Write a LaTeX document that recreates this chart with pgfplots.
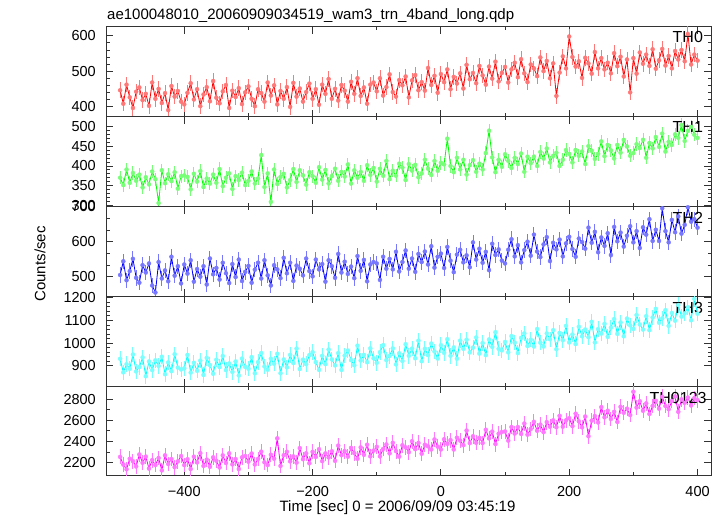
\documentclass[border=0pt]{standalone}
\usepackage{pgfplots}
\usepackage{pgfplotstable}
\pgfplotsset{compat=1.18}
\usepackage{fontspec}
\setmainfont{Liberation Sans}
\definecolor{qred}{RGB}{255,0,0}
\definecolor{qgreen}{RGB}{0,255,0}
\definecolor{qblue}{RGB}{0,0,255}
\definecolor{qcyan}{RGB}{0,255,255}
\definecolor{qmag}{RGB}{255,0,255}
\definecolor{pred}{RGB}{255,120,120}
\definecolor{pgreen}{RGB}{120,255,120}
\definecolor{pblue}{RGB}{120,120,255}
\definecolor{pcyan}{RGB}{120,255,255}
\definecolor{pmag}{RGB}{255,120,255}

\pgfplotstableread[row sep=\\]{
x y\\
-500 446\\ -495 408\\ -490 462\\ -485 426\\ -480 396\\ -475 442\\ -470 454\\ -465 418\\ -460 436\\ -455 402\\
-450 468\\ -445 422\\ -440 450\\ -435 410\\ -430 438\\ -425 390\\ -420 458\\ -415 428\\ -410 444\\ -405 414\\
-400 406\\ -395 439\\ -390 466\\ -385 420\\ -380 449\\ -375 401\\ -370 434\\ -365 455\\ -360 415\\ -355 472\\
-350 425\\ -345 409\\ -340 443\\ -335 461\\ -330 396\\ -325 445\\ -320 427\\ -315 452\\ -310 407\\ -305 440\\
-300 457\\ -295 422\\ -290 401\\ -285 449\\ -280 438\\ -275 414\\ -270 468\\ -265 431\\ -260 460\\ -255 406\\
-250 444\\ -245 422\\ -240 455\\ -235 399\\ -230 467\\ -225 428\\ -220 451\\ -215 414\\ -210 441\\ -205 465\\
-200 422\\ -195 449\\ -190 405\\ -185 462\\ -180 436\\ -175 478\\ -170 422\\ -165 450\\ -160 417\\ -155 461\\
-150 445\\ -145 414\\ -140 470\\ -135 436\\ -130 480\\ -125 430\\ -120 454\\ -115 408\\ -110 462\\ -105 468\\
-100 443\\ -95 480\\ -90 431\\ -85 455\\ -80 491\\ -75 441\\ -70 428\\ -65 475\\ -60 460\\ -55 485\\
-50 426\\ -45 474\\ -40 489\\ -35 446\\ -30 469\\ -25 445\\ -20 509\\ -15 461\\ -10 487\\ -5 439\\
0 492\\ 5 469\\ 10 505\\ 15 449\\ 20 484\\ 25 465\\ 30 494\\ 35 451\\ 40 518\\ 45 477\\
50 495\\ 55 466\\ 60 515\\ 65 488\\ 70 462\\ 75 513\\ 80 479\\ 85 527\\ 90 471\\ 95 495\\
100 512\\ 105 468\\ 110 505\\ 115 524\\ 120 483\\ 125 534\\ 130 494\\ 135 469\\ 140 519\\ 145 508\\
150 486\\ 155 539\\ 160 500\\ 165 529\\ 170 480\\ 175 522\\ 180 430\\ 185 496\\ 190 542\\ 195 508\\
200 598\\ 205 540\\ 210 513\\ 215 528\\ 220 481\\ 225 538\\ 230 522\\ 235 493\\ 240 554\\ 245 508\\
250 537\\ 255 505\\ 260 524\\ 265 494\\ 270 551\\ 275 514\\ 280 541\\ 285 485\\ 290 533\\ 295 440\\
300 537\\ 305 493\\ 310 553\\ 315 521\\ 320 547\\ 325 515\\ 330 562\\ 335 507\\ 340 531\\ 345 563\\
350 516\\ 355 543\\ 360 508\\ 365 557\\ 370 533\\ 375 560\\ 380 528\\ 385 605\\ 390 519\\ 395 547\\
400 530\\
}\thz

\pgfplotstableread[row sep=\\]{
x y\\
-500 370\\ -495 351\\ -490 391\\ -485 357\\ -480 382\\ -475 362\\ -470 378\\ -465 345\\ -460 371\\ -455 353\\
-450 386\\ -445 366\\ -440 305\\ -435 389\\ -430 356\\ -425 379\\ -420 361\\ -415 384\\ -410 342\\ -405 374\\
-400 376\\ -395 372\\ -390 340\\ -385 380\\ -380 360\\ -375 387\\ -370 346\\ -365 368\\ -360 355\\ -355 378\\
-350 357\\ -345 392\\ -340 348\\ -335 370\\ -330 381\\ -325 341\\ -320 374\\ -315 364\\ -310 383\\ -305 351\\
-300 362\\ -295 386\\ -290 355\\ -285 368\\ -280 428\\ -275 346\\ -270 381\\ -265 308\\ -260 391\\ -255 354\\
-250 372\\ -245 380\\ -240 345\\ -235 364\\ -230 392\\ -225 359\\ -220 389\\ -215 376\\ -210 352\\ -205 384\\
-200 374\\ -195 357\\ -190 397\\ -185 365\\ -180 390\\ -175 355\\ -170 374\\ -165 393\\ -160 362\\ -155 385\\
-150 373\\ -145 404\\ -140 355\\ -135 389\\ -130 370\\ -125 385\\ -120 362\\ -115 402\\ -110 377\\ -105 395\\
-100 360\\ -95 393\\ -90 375\\ -85 413\\ -80 366\\ -75 388\\ -70 375\\ -65 406\\ -60 396\\ -55 364\\
-50 405\\ -45 388\\ -40 403\\ -35 371\\ -30 381\\ -25 416\\ -20 393\\ -15 377\\ -10 413\\ -5 388\\
0 408\\ 5 404\\ 10 470\\ 15 400\\ 20 384\\ 25 421\\ 30 391\\ 35 416\\ 40 378\\ 45 402\\
50 415\\ 55 385\\ 60 406\\ 65 391\\ 70 433\\ 75 490\\ 80 422\\ 85 384\\ 90 416\\ 95 398\\
100 430\\ 105 413\\ 110 395\\ 115 421\\ 120 405\\ 125 432\\ 130 385\\ 135 424\\ 140 407\\ 145 424\\
150 400\\ 155 436\\ 160 419\\ 165 445\\ 170 409\\ 175 426\\ 180 434\\ 185 400\\ 190 416\\ 195 441\\
200 431\\ 205 409\\ 210 441\\ 215 426\\ 220 437\\ 225 405\\ 230 451\\ 235 439\\ 240 418\\ 245 431\\
250 463\\ 255 425\\ 260 454\\ 265 440\\ 270 419\\ 275 454\\ 280 434\\ 285 467\\ 290 450\\ 295 426\\
300 433\\ 305 456\\ 310 446\\ 315 467\\ 320 421\\ 325 459\\ 330 445\\ 335 474\\ 340 449\\ 345 483\\
350 437\\ 355 462\\ 360 454\\ 365 481\\ 370 472\\ 375 505\\ 380 464\\ 385 490\\ 390 500\\ 395 480\\
400 472\\
}\tho

\pgfplotstableread[row sep=\\]{
x y\\
-500 505\\ -495 544\\ -490 490\\ -485 516\\ -480 551\\ -475 497\\ -470 483\\ -465 533\\ -460 512\\ -455 538\\
-450 475\\ -445 455\\ -440 542\\ -435 495\\ -430 518\\ -425 487\\ -420 557\\ -415 503\\ -410 530\\ -405 481\\
-400 535\\ -395 509\\ -390 547\\ -385 486\\ -380 522\\ -375 500\\ -370 530\\ -365 478\\ -360 552\\ -355 507\\
-350 525\\ -345 492\\ -340 540\\ -335 510\\ -330 482\\ -325 536\\ -320 499\\ -315 549\\ -310 488\\ -305 514\\
-300 531\\ -295 483\\ -290 520\\ -285 540\\ -280 495\\ -275 547\\ -270 504\\ -265 475\\ -260 533\\ -255 521\\
-250 496\\ -245 554\\ -240 510\\ -235 540\\ -230 488\\ -225 532\\ -220 523\\ -215 504\\ -210 552\\ -205 516\\
-200 501\\ -195 549\\ -190 521\\ -185 536\\ -180 486\\ -175 547\\ -170 530\\ -165 497\\ -160 565\\ -155 512\\
-150 543\\ -145 508\\ -140 529\\ -135 496\\ -130 559\\ -125 517\\ -120 548\\ -115 487\\ -110 535\\ -105 542\\
-100 538\\ -95 491\\ -90 557\\ -85 523\\ -80 551\\ -75 521\\ -70 571\\ -65 515\\ -60 542\\ -55 575\\
-50 523\\ -45 552\\ -40 514\\ -35 565\\ -30 542\\ -25 572\\ -20 535\\ -15 587\\ -10 526\\ -5 557\\
0 566\\ 5 525\\ 10 585\\ 15 546\\ 20 513\\ 25 563\\ 30 577\\ 35 541\\ 40 561\\ 45 527\\
50 598\\ 55 549\\ 60 580\\ 65 540\\ 70 571\\ 75 519\\ 80 594\\ 85 562\\ 90 578\\ 95 546\\
100 538\\ 105 577\\ 110 607\\ 115 558\\ 120 590\\ 125 541\\ 130 576\\ 135 600\\ 140 560\\ 145 620\\
150 572\\ 155 556\\ 160 592\\ 165 613\\ 170 545\\ 175 597\\ 180 578\\ 185 606\\ 190 558\\ 195 595\\
200 614\\ 205 579\\ 210 557\\ 215 609\\ 220 599\\ 225 580\\ 230 640\\ 235 597\\ 240 628\\ 245 570\\
250 612\\ 255 588\\ 260 624\\ 265 562\\ 270 642\\ 275 601\\ 280 626\\ 285 586\\ 290 617\\ 295 644\\
300 598\\ 305 630\\ 310 582\\ 315 641\\ 320 620\\ 325 664\\ 330 602\\ 335 634\\ 340 602\\ 345 695\\
350 630\\ 355 598\\ 360 662\\ 365 627\\ 370 672\\ 375 623\\ 380 648\\ 385 698\\ 390 657\\ 395 664\\
400 640\\
}\tht

\pgfplotstableread[row sep=\\]{
x y\\
-500 931\\ -495 871\\ -490 907\\ -485 887\\ -480 950\\ -475 875\\ -470 895\\ -465 937\\ -460 854\\ -455 919\\
-450 881\\ -445 924\\ -440 899\\ -435 940\\ -430 863\\ -425 915\\ -420 876\\ -415 951\\ -410 892\\ -405 884\\
-400 889\\ -395 948\\ -390 870\\ -385 913\\ -380 878\\ -375 923\\ -370 860\\ -365 935\\ -360 903\\ -355 865\\
-350 927\\ -345 894\\ -340 943\\ -335 881\\ -330 910\\ -325 873\\ -320 919\\ -315 857\\ -310 932\\ -305 895\\
-300 887\\ -295 938\\ -290 867\\ -285 916\\ -280 956\\ -275 897\\ -270 883\\ -265 931\\ -260 909\\ -255 953\\
-250 867\\ -245 928\\ -240 893\\ -235 948\\ -230 912\\ -225 976\\ -220 886\\ -215 927\\ -210 907\\ -205 947\\
-200 960\\ -195 916\\ -190 882\\ -185 944\\ -180 907\\ -175 972\\ -170 928\\ -165 902\\ -160 956\\ -155 882\\
-150 945\\ -145 967\\ -140 925\\ -135 902\\ -130 989\\ -125 923\\ -120 948\\ -115 916\\ -110 977\\ -105 933\\
-100 913\\ -95 960\\ -90 991\\ -85 925\\ -80 944\\ -75 977\\ -70 906\\ -65 955\\ -60 921\\ -55 995\\
-50 944\\ -45 976\\ -40 933\\ -35 1011\\ -30 920\\ -25 975\\ -20 947\\ -15 998\\ -10 963\\ -5 932\\
0 991\\ 5 957\\ 10 1017\\ 15 944\\ 20 981\\ 25 931\\ 30 1011\\ 35 975\\ 40 1015\\ 45 959\\
50 980\\ 55 1025\\ 60 954\\ 65 1000\\ 70 947\\ 75 1016\\ 80 983\\ 85 1048\\ 90 975\\ 95 968\\
100 1005\\ 105 959\\ 110 1031\\ 115 1002\\ 120 956\\ 125 1023\\ 130 1043\\ 135 987\\ 140 1015\\ 145 985\\
150 1062\\ 155 1002\\ 160 985\\ 165 1043\\ 170 1017\\ 175 1057\\ 180 973\\ 185 1045\\ 190 1013\\ 195 1076\\
200 1003\\ 205 1038\\ 210 996\\ 215 1072\\ 220 1030\\ 225 1060\\ 230 1026\\ 235 1094\\ 240 1003\\ 245 1062\\
250 1042\\ 255 1085\\ 260 1028\\ 265 1068\\ 270 1106\\ 275 1041\\ 280 1091\\ 285 1030\\ 290 1108\\ 295 1078\\
300 1063\\ 305 1124\\ 310 1082\\ 315 1060\\ 320 1119\\ 325 1057\\ 330 1113\\ 335 1151\\ 340 1090\\ 345 1109\\
350 1145\\ 355 1076\\ 360 1133\\ 365 1099\\ 370 1168\\ 375 1117\\ 380 1131\\ 385 1158\\ 390 1101\\ 395 1195\\
400 1130\\
}\thth

\pgfplotstableread[row sep=\\]{
x y\\
-500 2255\\ -495 2183\\ -490 2138\\ -485 2238\\ -480 2215\\ -475 2165\\ -470 2278\\ -465 2200\\ -460 2258\\ -455 2145\\
-450 2225\\ -445 2178\\ -440 2245\\ -435 2128\\ -430 2270\\ -425 2188\\ -420 2235\\ -415 2158\\ -410 2213\\ -405 2263\\
-400 2178\\ -395 2233\\ -390 2141\\ -385 2257\\ -380 2203\\ -375 2291\\ -370 2170\\ -365 2230\\ -360 2162\\ -355 2251\\
-350 2219\\ -345 2155\\ -340 2270\\ -335 2198\\ -330 2289\\ -325 2184\\ -320 2235\\ -315 2141\\ -310 2251\\ -305 2264\\
-300 2210\\ -295 2287\\ -290 2183\\ -285 2236\\ -280 2305\\ -275 2204\\ -270 2178\\ -265 2275\\ -260 2238\\ -255 2430\\
-250 2170\\ -245 2271\\ -240 2303\\ -235 2213\\ -230 2260\\ -225 2201\\ -220 2338\\ -215 2234\\ -210 2289\\ -205 2195\\
-200 2303\\ -195 2255\\ -190 2328\\ -185 2215\\ -180 2288\\ -175 2250\\ -170 2308\\ -165 2218\\ -160 2362\\ -155 2271\\
-150 2310\\ -145 2258\\ -140 2340\\ -135 2290\\ -130 2238\\ -125 2345\\ -120 2275\\ -115 2370\\ -110 2260\\ -105 2315\\
-100 2350\\ -95 2260\\ -90 2330\\ -85 2373\\ -80 2288\\ -75 2388\\ -70 2310\\ -65 2258\\ -60 2365\\ -55 2345\\
-50 2300\\ -45 2403\\ -40 2328\\ -35 2387\\ -30 2285\\ -25 2370\\ -20 2355\\ -15 2325\\ -10 2420\\ -5 2352\\
0 2325\\ 5 2422\\ 10 2378\\ 15 2413\\ 20 2325\\ 25 2436\\ 30 2409\\ 35 2366\\ 40 2504\\ 45 2385\\
50 2450\\ 55 2388\\ 60 2435\\ 65 2386\\ 70 2511\\ 75 2430\\ 80 2494\\ 85 2376\\ 90 2474\\ 95 2490\\
100 2495\\ 105 2409\\ 110 2537\\ 115 2475\\ 120 2537\\ 125 2472\\ 130 2570\\ 135 2465\\ 140 2518\\ 145 2586\\
150 2502\\ 155 2560\\ 160 2488\\ 165 2583\\ 170 2540\\ 175 2600\\ 180 2535\\ 185 2643\\ 190 2540\\ 195 2600\\
200 2620\\ 205 2545\\ 210 2663\\ 215 2591\\ 220 2534\\ 225 2636\\ 230 2450\\ 235 2597\\ 240 2640\\ 245 2580\\
250 2725\\ 255 2628\\ 260 2691\\ 265 2613\\ 270 2680\\ 275 2585\\ 280 2728\\ 285 2672\\ 290 2710\\ 295 2650\\
300 2870\\ 305 2720\\ 310 2780\\ 315 2690\\ 320 2760\\ 325 2660\\ 330 2735\\ 335 2785\\ 340 2710\\ 345 2822\\
350 2735\\ 355 2705\\ 360 2783\\ 365 2825\\ 370 2680\\ 375 2798\\ 380 2765\\ 385 2815\\ 390 2740\\ 395 2810\\
400 2790\\
}\thall

\pgfplotsset{
  panel/.style={
    anchor=south west,
    scale only axis,
    width=605pt, height=89.8pt,
    xmin=-522, xmax=421,
    xtick={-400,-200,0,200,400},
    minor x tick num=1,
    xticklabels={},
    scaled ticks=false,
    /pgf/number format/1000 sep={},
    /pgf/number format/assume math mode=true,
    tick align=inside,
    major tick length=7pt,
    minor tick length=3.5pt,
    axis line style={line width=1pt, black!80},
    every tick/.style={line width=0.9pt, black!80},
    tick label style={font=\fontsize{14.5}{17}\selectfont},
    yticklabel style={inner sep=0pt, xshift=-10pt},
    xticklabel style={inner sep=0pt, yshift=-10pt},
    clip=true,
  },
}
\tikzset{thlabel/.style={anchor=north east, inner sep=0pt, font=\fontsize{16}{18}\selectfont}}

\begin{document}
\begin{tikzpicture}[x=1pt,y=1pt]
\useasboundingbox (0,0) rectangle (723,516);

% panel 1: TH0
\begin{axis}[panel, at={(106pt,399.2pt)}, ymin=371, ymax=625, ytick={400,500,600}, minor y tick num=4]
\addplot[only marks, mark=none, pred, error bars/.cd, y dir=both, y fixed=22, error mark=none, error bar style={draw=pred, line width=0.9pt}] table[x=x,y=y] {\thz};
\addplot[qred, line width=0.8pt] table[x=x,y=y] {\thz};
\node[thlabel] at (rel axis cs:0.987,0.955) {TH0};
\end{axis}

% panel 2: TH1
\begin{axis}[panel, at={(106pt,309.4pt)}, ymin=296, ymax=526, ytick={300,350,400,450,500}, minor y tick num=4]
\addplot[only marks, mark=none, pgreen, error bars/.cd, y dir=both, y fixed=17, error mark=none, error bar style={draw=pgreen, line width=0.9pt}] table[x=x,y=y] {\tho};
\addplot[qgreen, line width=0.8pt] table[x=x,y=y] {\tho};
\node[thlabel] at (rel axis cs:0.987,0.945) {TH1};
\end{axis}

% panel 3: TH2
\begin{axis}[panel, at={(106pt,219.6pt)}, ymin=444, ymax=700, ytick={500,600,700}, minor y tick num=2]
\addplot[only marks, mark=none, pblue, error bars/.cd, y dir=both, y fixed=22, error mark=none, error bar style={draw=pblue, line width=0.9pt}] table[x=x,y=y] {\tht};
\addplot[qblue, line width=0.8pt] table[x=x,y=y] {\tht};
\node[thlabel] at (rel axis cs:0.987,0.94) {TH2};
\end{axis}

% panel 4: TH3
\begin{axis}[panel, at={(106pt,129.8pt)}, ymin=810, ymax=1206, ytick={900,1000,1100,1200}, minor y tick num=4]
\addplot[only marks, mark=none, pcyan, error bars/.cd, y dir=both, y fixed=34, error mark=none, error bar style={draw=pcyan, line width=0.9pt}] table[x=x,y=y] {\thth};
\addplot[qcyan, line width=0.8pt] table[x=x,y=y] {\thth};
\node[thlabel] at (rel axis cs:0.987,0.937) {TH3};
\end{axis}

% panel 5: TH0123
\begin{axis}[panel, at={(106pt,40pt)}, ymin=2075, ymax=2922, ytick={2200,2400,2600,2800}, minor y tick num=1,
  xticklabels={−400,−200,0,200,400}]
\addplot[only marks, mark=none, pmag, error bars/.cd, y dir=both, y fixed=70, error mark=none, error bar style={draw=pmag, line width=0.9pt}] table[x=x,y=y] {\thall};
\addplot[qmag, line width=0.8pt] table[x=x,y=y] {\thall};
\node[thlabel] at (rel axis cs:0.993,0.937) {TH0123};
\end{axis}

\node[anchor=base west, inner sep=0pt, font=\fontsize{15}{18}\selectfont] at (107,496.7) {ae100048010\_20060909034519\_wam3\_trn\_4band\_long.qdp};
\node[rotate=90, inner sep=0pt, font=\fontsize{15}{18}\selectfont] at (40,252) {Counts/sec};
\node[anchor=base, inner sep=0pt, font=\fontsize{15}{18}\selectfont] at (397.5,4.3) {Time [sec] 0 = 2006/09/09 03:45:19};
\end{tikzpicture}
\end{document}
